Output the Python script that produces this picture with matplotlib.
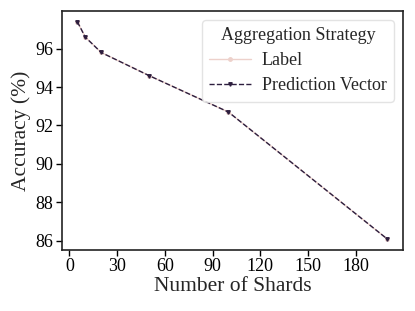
import matplotlib
matplotlib.use("Agg")
import matplotlib.pyplot as plt
import seaborn as sns

# data
shards = [5, 10, 20, 50, 100, 200]
acc_label = [97.4, 96.6, 95.8, 94.6, 92.7, 86.08]
acc_pred = [97.4, 96.6, 95.8, 94.6, 92.7, 86.08]

sns.set_style("ticks")
plt.rcParams['font.family'] = ['Liberation Serif', 'DejaVu Serif']

colors = sns.cubehelix_palette(2)

fig = plt.figure(figsize=(4.15, 3.11), dpi=100)
ax = fig.add_axes([0.149, 0.196, 0.822, 0.769])

ax.plot(shards, acc_label, color=colors[0], marker='o', markersize=2.5,
        linestyle='-', linewidth=1.0, label='Label')
ax.plot(shards, acc_pred, color=colors[1], marker='v', markersize=2.5,
        linestyle='--', linewidth=1.0, label='Prediction Vector')

ax.set_xticks([0, 30, 60, 90, 120, 150, 180])
ax.set_yticks([86, 88, 90, 92, 94, 96])
ax.tick_params(labelsize=13, length=4, width=1, colors='black', pad=2)
ax.set_xlabel("Number of Shards", fontsize=15.5, labelpad=1)
ax.set_ylabel("Accuracy (%)", fontsize=15.5, labelpad=3)

for s in ax.spines.values():
    s.set_linewidth(1.2)
    s.set_color('#222222')

leg = ax.legend(title="Aggregation Strategy", fontsize=13, title_fontsize=13,
                loc='upper right', handlelength=2.3, handletextpad=0.6,
                borderaxespad=0.5, labelspacing=0.45)
leg.get_frame().set_edgecolor('#dddddd')

fig.savefig("out.png", dpi=100)
